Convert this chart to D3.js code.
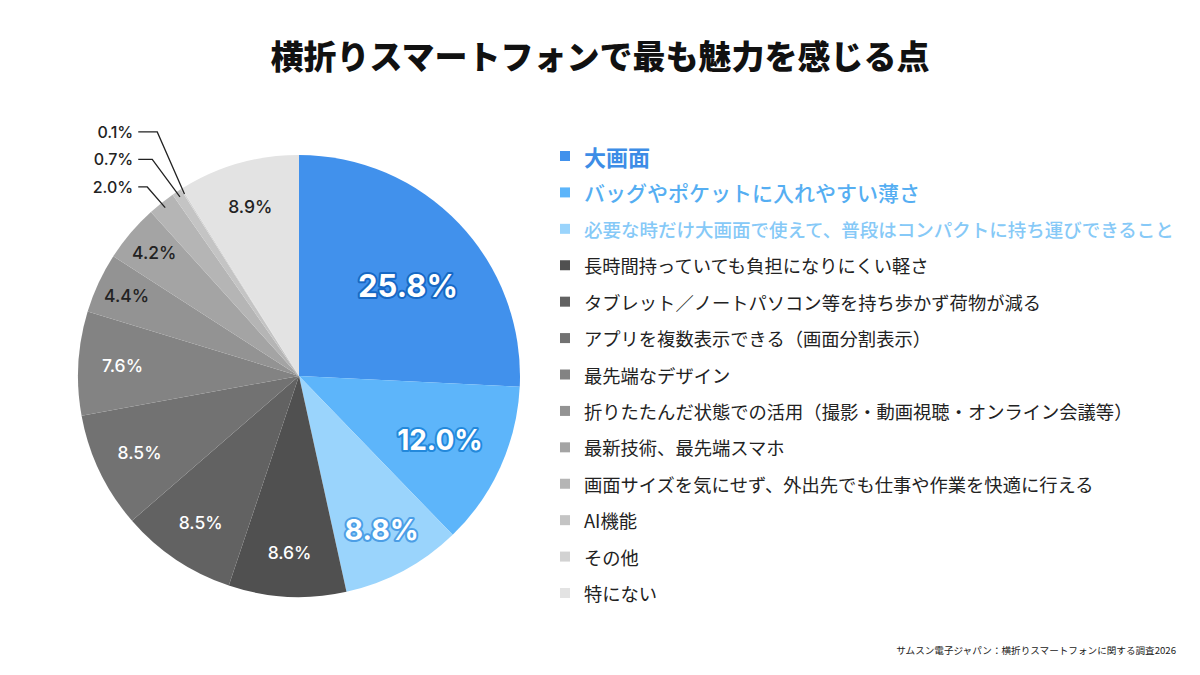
<!DOCTYPE html>
<html lang="ja">
<head>
<meta charset="utf-8">
<script src="https://cdn.jsdelivr.net/npm/d3@7"></script>
<style>
  body { margin: 0; background: #fff; }
  svg { display: block; font-family: "Noto Sans CJK JP", "Noto Sans", sans-serif; }
</style>
</head>
<body>
<script>
// 横折りスマートフォンで最も魅力を感じる点
const title = "横折りスマートフォンで最も魅力を感じる点";
const source = "サムスン電子ジャパン：横折りスマートフォンに関する調査2026";

const categories = [
  "大画面",
  "バッグやポケットに入れやすい薄さ",
  "必要な時だけ大画面で使えて、普段はコンパクトに持ち運びできること",
  "長時間持っていても負担になりにくい軽さ",
  "タブレット／ノートパソコン等を持ち歩かず荷物が減る",
  "アプリを複数表示できる（画面分割表示）",
  "最先端なデザイン",
  "折りたたんだ状態での活用（撮影・動画視聴・オンライン会議等）",
  "最新技術、最先端スマホ",
  "画面サイズを気にせず、外出先でも仕事や作業を快適に行える",
  "AI機能",
  "その他",
  "特にない"
];
const values = [25.8, 12.0, 8.8, 8.6, 8.5, 8.5, 7.6, 4.4, 4.2, 2.0, 0.7, 0.1, 8.9];
const colors = [
  "#4191ec", "#5db5fa", "#9ad4fc",
  "#505050", "#626262", "#727272", "#838383", "#939393",
  "#a4a4a4", "#b5b5b5", "#c4c4c4", "#d2d2d2", "#e3e3e3"
];

const w = 1200, h = 675;
const cx = 299, cy = 376, r = 221;

const svg = d3.select("body").append("svg")
  .attr("width", w)
  .attr("height", h);

svg.append("text")
  .attr("x", w / 2)
  .attr("y", 55)
  .attr("text-anchor", "middle")
  .attr("dominant-baseline", "central")
  .attr("font-size", 33)
  .attr("font-weight", 900)
  .attr("fill", "#111")
  .text(title);

const data = categories.map((c, i) => ({ name: c, value: values[i], color: colors[i], i: i }));

const pie = d3.pie().sort(null).value(d => d.value);
const arcs = pie(data);
const arc = d3.arc().innerRadius(0).outerRadius(r);

const g = svg.append("g").attr("transform", `translate(${cx},${cy})`);

g.selectAll("path.slice")
  .data(arcs)
  .enter()
  .append("path")
  .attr("class", "slice")
  .attr("d", arc)
  .attr("fill", d => d.data.color);

// label styling: blue slices get big outlined numbers
const labelStyle = [
  { size: 31, stroke: "#1668c4", f: 0.64, da: 0.07 },
  { size: 28, stroke: "#2389dc", f: 0.7, da: 0 },
  { size: 28.5, stroke: "#4c9ee6", f: 0.79, da: 0 }
];

const inside = arcs.filter(d => d.data.value >= 3);
const outside = arcs.filter(d => d.data.value < 3);

g.selectAll("text.inlabel")
  .data(inside)
  .enter()
  .append("text")
  .attr("class", "inlabel")
  .attr("transform", d => {
    const s = labelStyle[d.data.i];
    const rr = r * (s ? s.f : (d.data.value < 5 ? 0.86 : 0.8));
    const a = (d.startAngle + d.endAngle) / 2 + (s ? s.da : 0);
    return `translate(${Math.sin(a) * rr},${-Math.cos(a) * rr})`;
  })
  .attr("text-anchor", "middle")
  .attr("dominant-baseline", "central")
  .attr("font-family", "Inter, 'Noto Sans', sans-serif")
  .attr("font-size", d => labelStyle[d.data.i] ? labelStyle[d.data.i].size : 17.5)
  .attr("font-weight", d => labelStyle[d.data.i] ? 700 : 500)
  .attr("fill", d => (d.data.i < 7 ? "#fff" : "#222"))
  .attr("stroke", d => labelStyle[d.data.i] ? labelStyle[d.data.i].stroke : "none")
  .attr("stroke-width", d => labelStyle[d.data.i] ? 4 : 0)
  .attr("stroke-linejoin", "round")
  .attr("paint-order", "stroke")
  .text(d => d.data.value.toFixed(1) + "%");

// small slices: leader lines to stacked labels on the left
const textX = -r * 0.75;
outside.forEach((d, k) => {
  const a = (d.startAngle + d.endAngle) / 2;
  const r0 = r - 6;
  const p0 = [Math.sin(a) * r0, -Math.cos(a) * r0];
  const ly = -Math.cos(outside[0].startAngle) * r - 25 - k * 27.5;
  const p1 = [textX + 14 + k * 5, ly];
  const p2 = [textX + 5, ly];
  g.append("path")
    .attr("d", d3.line()([p0, p1, p2]))
    .attr("fill", "none")
    .attr("stroke", "#222")
    .attr("stroke-width", 1.3);
  g.append("text")
    .attr("x", textX)
    .attr("y", ly)
    .attr("text-anchor", "end")
    .attr("dominant-baseline", "central")
    .attr("font-family", "Inter, 'Noto Sans', sans-serif")
    .attr("font-size", 16)
    .attr("font-weight", 500)
    .attr("fill", "#222")
    .text(d.data.value.toFixed(1) + "%");
});

// legend
const legendY = d3.scalePoint()
  .domain(d3.range(categories.length))
  .range([156, 593]);

const legendStyle = i => {
  if (i === 0) return { size: 22, weight: 700, fill: "#3d8de6" };
  if (i === 1) return { size: 21, weight: 500, fill: "#55aef2" };
  if (i === 2) return { size: 18.5, weight: 500, fill: "#86c9f7" };
  return { size: 18.3, weight: 400, fill: "#222" };
};

const lg = svg.append("g").attr("class", "legend");
const item = lg.selectAll("g")
  .data(data)
  .enter()
  .append("g")
  .attr("transform", d => `translate(560,${legendY(d.i)})`);

item.append("rect")
  .attr("x", 0)
  .attr("y", -5)
  .attr("width", 10)
  .attr("height", 10)
  .attr("fill", d => d.color);

item.append("text")
  .attr("x", 24)
  .attr("y", 0)
  .attr("dominant-baseline", "central")
  .attr("font-size", d => legendStyle(d.i).size)
  .attr("font-weight", d => legendStyle(d.i).weight)
  .attr("fill", d => legendStyle(d.i).fill)
  .text(d => d.name);

svg.append("text")
  .attr("x", 1176)
  .attr("y", 650)
  .attr("text-anchor", "end")
  .attr("dominant-baseline", "central")
  .attr("font-size", 9.6)
  .attr("fill", "#222")
  .text(source);
</script>
</body>
</html>
